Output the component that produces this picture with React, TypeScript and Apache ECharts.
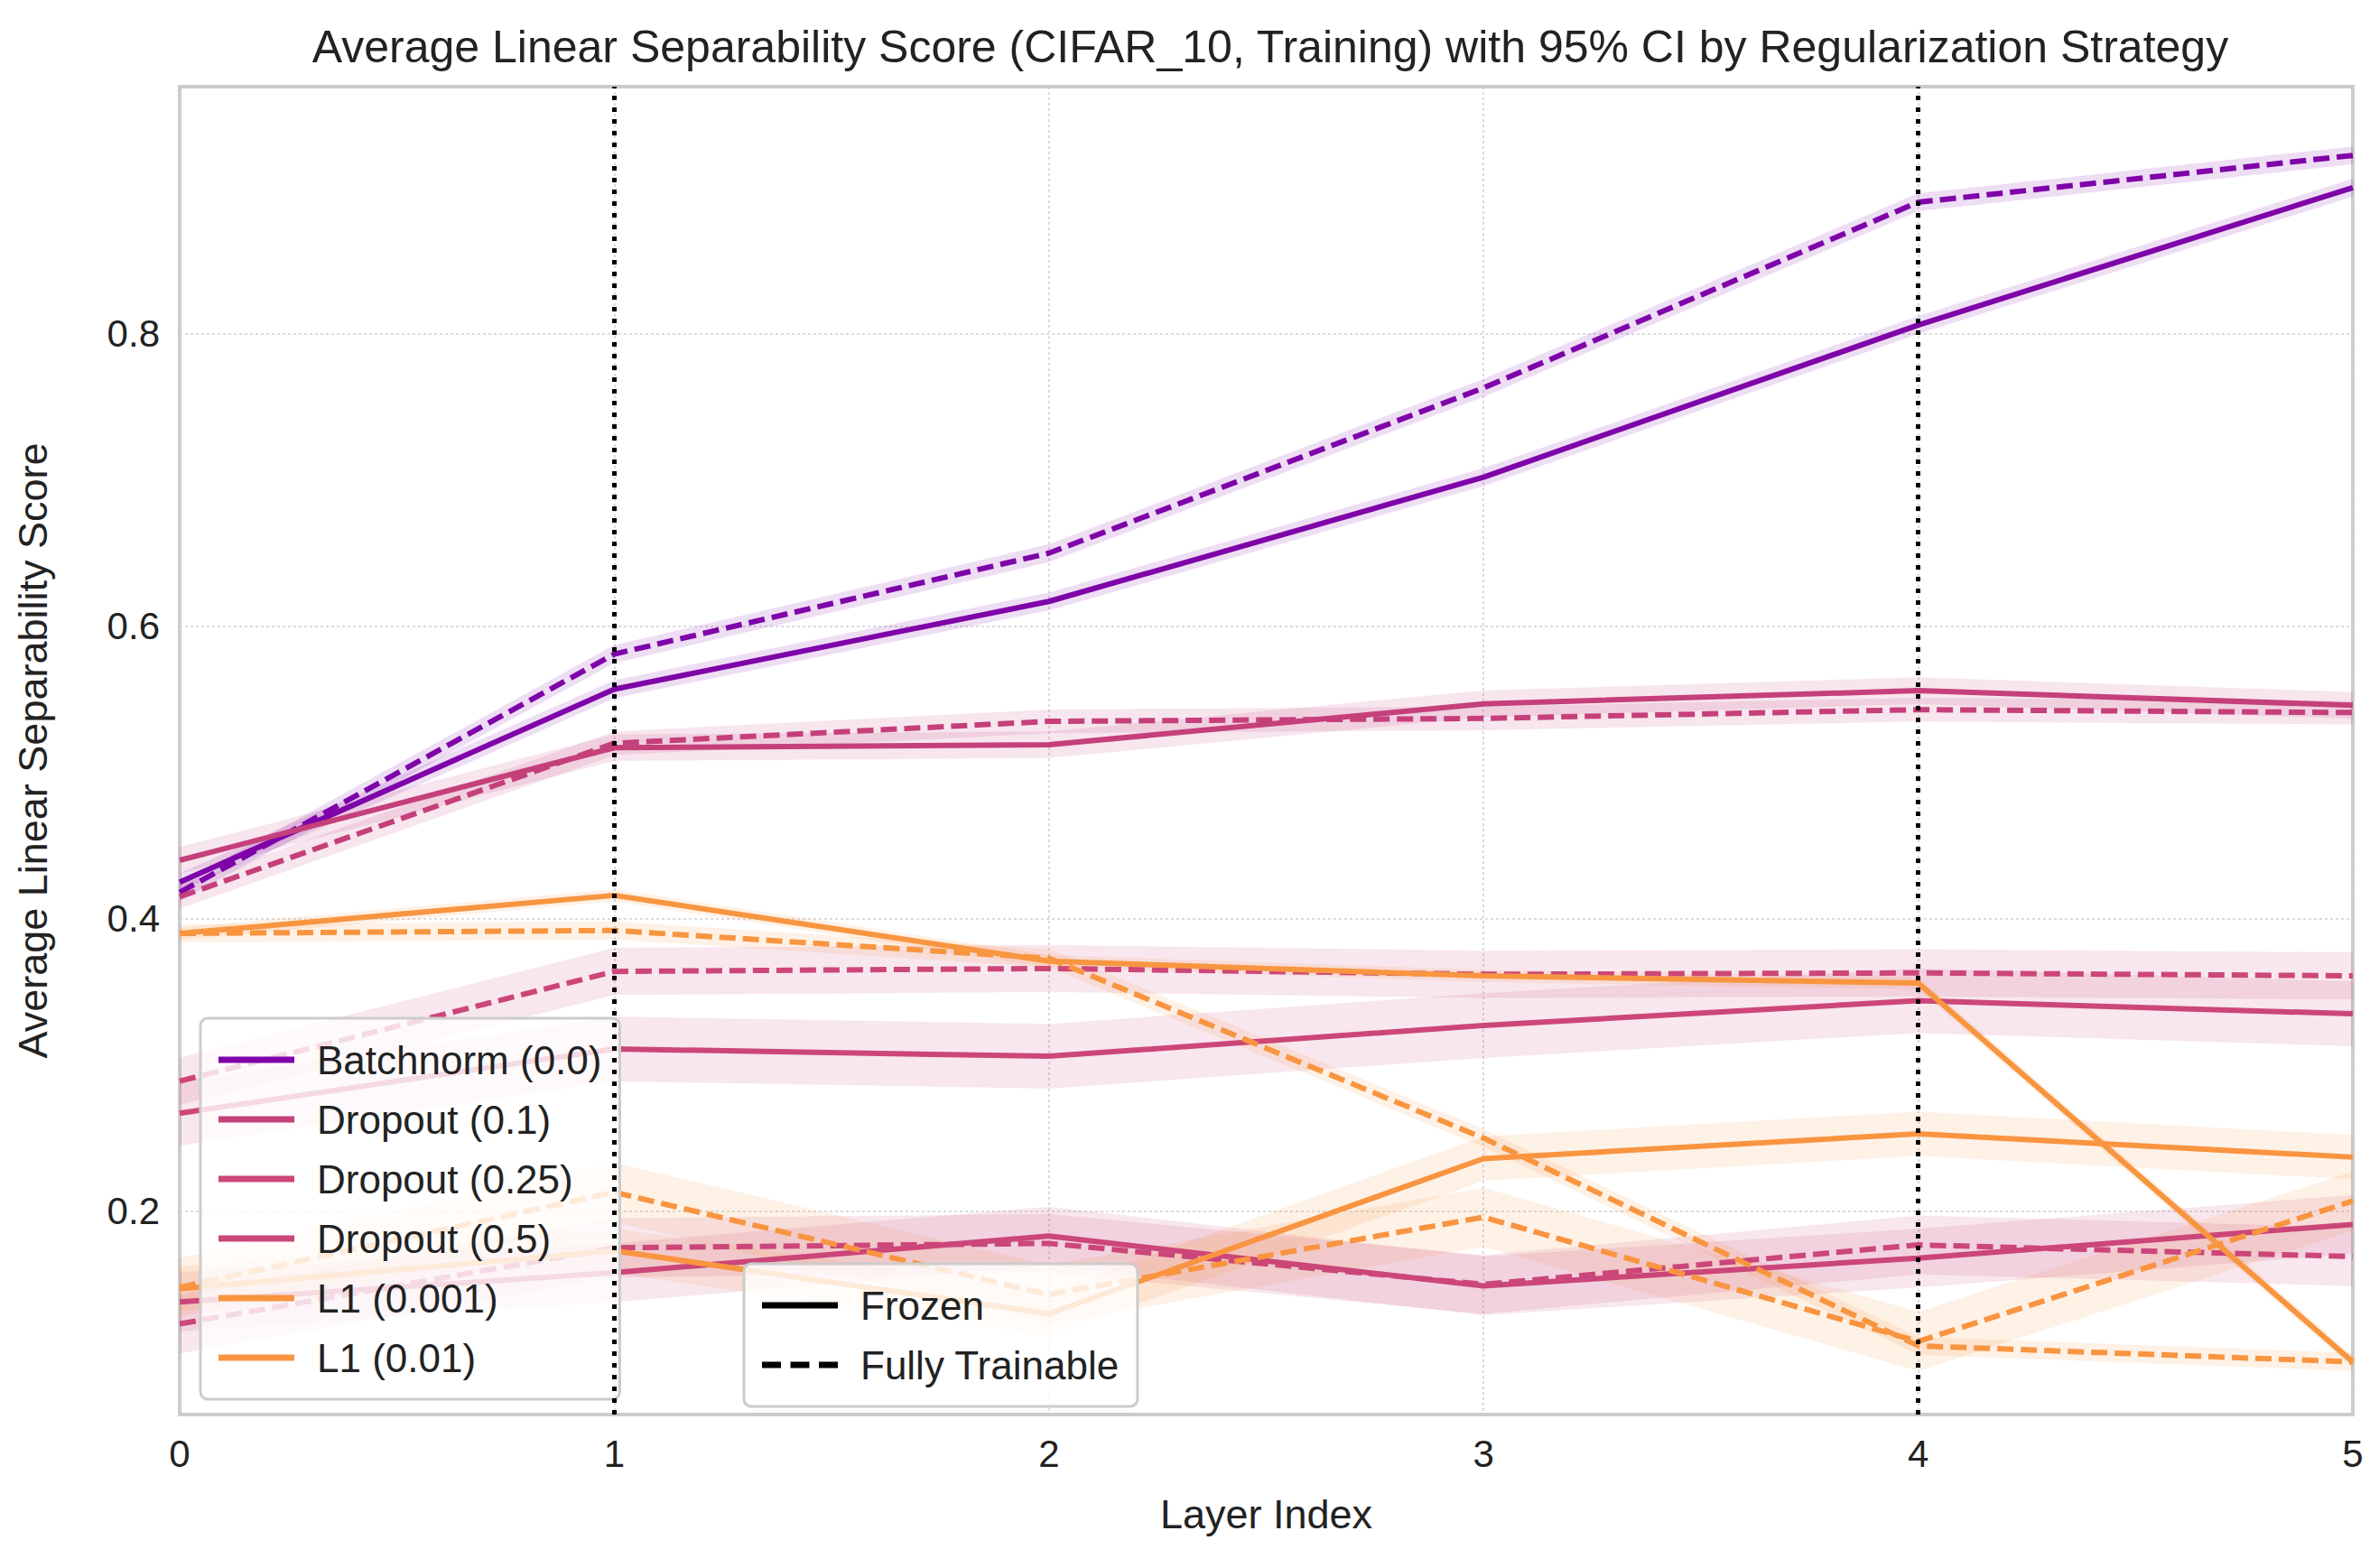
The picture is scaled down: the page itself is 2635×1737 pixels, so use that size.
import React, { useRef, useEffect } from "react";
import * as echarts from "echarts";

// layer indices
const LAYERS = [0, 1, 2, 3, 4, 5];

// 策略名称与颜色
const STRATEGIES = ["Batchnorm (0.0)", "Dropout (0.1)", "Dropout (0.25)", "Dropout (0.5)", "L1 (0.001)", "L1 (0.01)"];
const COLORS = ["#7e03a8", "#c5407b", "#cc4778", "#cb4679", "#f89540", "#f99441"];

// frozen (solid) means
const FROZEN = [
  [0.425, 0.557, 0.617, 0.702, 0.806, 0.9],
  [0.44, 0.517, 0.519, 0.547, 0.556, 0.546],
  [0.267, 0.311, 0.306, 0.327, 0.344, 0.335],
  [0.138, 0.158, 0.183, 0.149, 0.168, 0.191],
  [0.39, 0.416, 0.371, 0.361, 0.356, 0.097],
  [0.147, 0.173, 0.13, 0.236, 0.253, 0.237],
];
// fully trainable (dashed) means
const TRAINABLE = [
  [0.418, 0.581, 0.65, 0.763, 0.89, 0.922],
  [0.415, 0.52, 0.535, 0.537, 0.543, 0.541],
  [0.289, 0.364, 0.366, 0.362, 0.363, 0.361],
  [0.123, 0.175, 0.178, 0.15, 0.177, 0.169],
  [0.39, 0.392, 0.373, 0.25, 0.108, 0.097],
  [0.148, 0.213, 0.143, 0.196, 0.111, 0.207],
];
// 95% CI half widths
const CI_FROZEN = [0.006, 0.009, 0.022, 0.02, 0.004, 0.015];
const CI_TRAIN = [0.006, 0.008, 0.016, 0.02, 0.006, 0.02];

const Y_TICKS = [0.2, 0.4, 0.6, 0.8];
const MARK_LAYERS = [1, 4];

const FONT = "Liberation Sans, Arial, sans-serif";
const LINE_ICON = "path://M0,0h12v1h-12z";
const DASH_ICON = "path://M0,0h3v1h-3z M4.5,0h3v1h-3z M9,0h3v1h-3z";

function bandSeries(mean: number[], hw: number, color: string) {
  const pts = LAYERS.map((x, i) => [x, mean[i] - hw, mean[i] + hw]);
  return {
    type: "custom",
    silent: true,
    z: 1,
    data: pts,
    encode: { x: 0, y: [1, 2] },
    renderItem: (params: any, api: any) => {
      if (params.dataIndex !== 0) return null;
      const upper = pts.map((p) => api.coord([p[0], p[2]]));
      const lower = pts.map((p) => api.coord([p[0], p[1]])).reverse();
      return {
        type: "polygon",
        shape: { points: upper.concat(lower) },
        style: { fill: color, opacity: 0.13, stroke: color, lineWidth: 2, strokeOpacity: 0.12 } as any,
      };
    },
  };
}

const App: React.FC = () => {
  const ref = useRef<HTMLDivElement>(null);

  useEffect(() => {
    document.body.style.margin = "0";
    if (!ref.current) return;
    const chart = echarts.init(ref.current, undefined, { renderer: "svg" });
    const series: any[] = [];
    STRATEGIES.forEach((name, k) => {
      series.push(bandSeries(FROZEN[k], CI_FROZEN[k], COLORS[k]));
      series.push(bandSeries(TRAINABLE[k], CI_TRAIN[k], COLORS[k]));
    });
    STRATEGIES.forEach((name, k) => {
      series.push({
        name,
        type: "line",
        symbol: "none",
        z: 3,
        data: LAYERS.map((x, i) => [x, FROZEN[k][i]]),
        lineStyle: { color: COLORS[k], width: 6 },
        itemStyle: { color: COLORS[k] },
      });
      series.push({
        name,
        type: "line",
        symbol: "none",
        z: 3,
        data: LAYERS.map((x, i) => [x, TRAINABLE[k][i]]),
        lineStyle: { color: COLORS[k], width: 6, type: [18, 8] },
        itemStyle: { color: COLORS[k] },
      });
    });
    series.push({
      name: "Frozen",
      type: "line",
      symbol: "none",
      data: [],
      lineStyle: { color: "#000", width: 6 },
      itemStyle: { color: "#000" },
    });
    series.push({
      name: "Fully Trainable",
      type: "line",
      symbol: "none",
      data: [],
      lineStyle: { color: "#000", width: 6, type: [18, 8] },
      itemStyle: { color: "#000" },
    });
    series.push({
      type: "line",
      data: [],
      silent: true,
      markLine: {
        symbol: "none",
        silent: true,
        label: { show: false },
        lineStyle: { color: "#000", width: 5, type: [5, 8] },
        data: MARK_LAYERS.map((x) => ({ xAxis: x })),
      },
      z: 5,
    });

    const legendCommon = {
      orient: "vertical" as const,
      backgroundColor: "rgba(255,255,255,0.8)",
      borderColor: "#cccccc",
      borderWidth: 3,
      borderRadius: 8,
      itemWidth: 100,
      itemHeight: 7,
      itemGap: 22,
      textStyle: { fontSize: 44, color: "#222", fontFamily: FONT, padding: [0, 0, 0, 12] },
    };

    chart.setOption({
      animation: false,
      backgroundColor: "#fff",
      title: {
        text: "Average Linear Separability Score (CIFAR_10, Training) with 95% CI by Regularization Strategy",
        left: 1402,
        textAlign: "center",
        top: 22,
        textStyle: { fontSize: 50, fontWeight: "normal", color: "#222", fontFamily: FONT },
      },
      grid: { left: 199, right: 29, top: 96, bottom: 170, show: true, borderColor: "#cccccc", borderWidth: 4 },
      legend: [
        {
          ...legendCommon,
          data: STRATEGIES.map((name) => ({ name, icon: LINE_ICON })),
          left: 222,
          top: 1128,
          padding: [24, 20, 24, 20],
        },
        {
          ...legendCommon,
          data: [
            { name: "Frozen", icon: LINE_ICON },
            { name: "Fully Trainable", icon: DASH_ICON },
          ],
          left: 824,
          top: 1400,
          padding: [24, 20, 24, 20],
        },
      ],
      xAxis: {
        type: "value",
        min: 0,
        max: 5,
        interval: 1,
        name: "Layer Index",
        nameLocation: "middle",
        nameGap: 88,
        nameTextStyle: { fontSize: 45, color: "#222", fontFamily: FONT },
        axisLine: { show: false },
        axisTick: { show: false },
        axisLabel: { fontSize: 42, color: "#222", margin: 22, fontFamily: FONT },
        splitLine: { show: true, lineStyle: { color: "#cfcfcf", width: 1.5, type: [3, 3] } },
      },
      yAxis: {
        type: "value",
        min: 0.061,
        max: 0.969,
        name: "Average Linear Separability Score",
        nameLocation: "middle",
        nameGap: 140,
        nameTextStyle: { fontSize: 45, color: "#222", fontFamily: FONT },
        axisLine: { show: false },
        axisTick: { show: false, customValues: Y_TICKS },
        axisLabel: { fontSize: 42, color: "#222", margin: 22, fontFamily: FONT, customValues: Y_TICKS, formatter: (v: number) => v.toFixed(1) },
        splitLine: { show: true, lineStyle: { color: "#cfcfcf", width: 1.5, type: [3, 3] } },
      },
      series,
    });
    return () => chart.dispose();
  }, []);

  return <div ref={ref} style={{ width: 2635, height: 1737 }} />;
};

export default App;
